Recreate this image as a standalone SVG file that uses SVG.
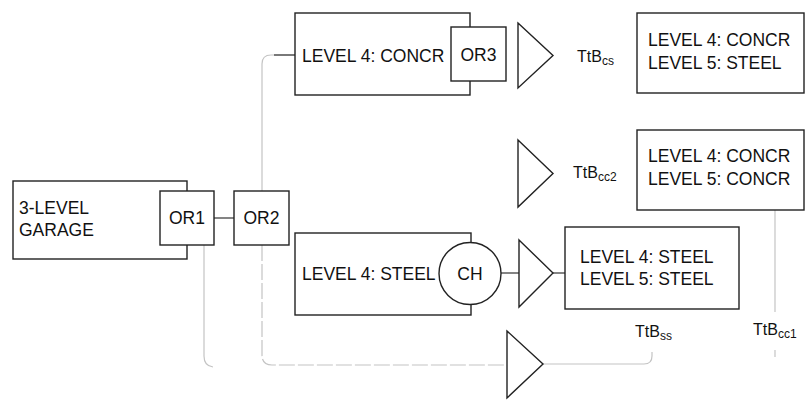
<svg xmlns="http://www.w3.org/2000/svg" width="809" height="402" viewBox="0 0 809 402">
<style>
  .box { fill: #fff; stroke: #222; stroke-width: 1.4; }
  .tri { fill: #fff; stroke: #222; stroke-width: 1.4; stroke-linejoin: miter; }
  .t { font-family: "Liberation Sans", Arial, sans-serif; font-size: 17.5px; fill: #111; }
  .lbl { font-family: "Liberation Sans", Arial, sans-serif; font-size: 16px; fill: #111; }
  .sub { font-size: 12px; }
  .solid { fill: none; stroke: #333; stroke-width: 1.2; }
  .faint { fill: none; stroke: #c4c4c4; stroke-width: 1.2; }
</style>
<rect width="809" height="402" fill="#fff"/>
<g id="connectors">
  <path class="faint" d="M262,191 V64 Q262,55 271,55 H295"/>
  <path class="solid" d="M274,55 H295"/>
  <path class="solid" d="M214,218 H234"/>
  <path class="faint" d="M204,245 V356 Q204,366 213,367"/>
  <path class="faint" d="M262,245 V355 Q262,365 272,365 H507" stroke-dasharray="16 3"/>
  <path class="faint" d="M543,364 H644 Q652,364 652,356 V352"/>
  <path class="solid" d="M501,273 H519"/>
  <path class="solid" d="M553,273 H565"/>
  <path class="faint" d="M775,210 V312"/>
  <path class="faint" d="M775,350 V357"/>
</g>
<g id="garage">
  <rect class="box" x="13" y="181" width="174" height="78"/>
  <text class="t" x="19" y="214">3-LEVEL</text>
  <text class="t" x="19" y="236">GARAGE</text>
</g>
<g id="or1">
  <rect class="box" x="160" y="191" width="54" height="54"/>
  <text class="t" x="187" y="224" text-anchor="middle">OR1</text>
</g>
<g id="or2">
  <rect class="box" x="234" y="191" width="55" height="54"/>
  <text class="t" x="261.5" y="224" text-anchor="middle">OR2</text>
</g>
<g id="level4-concr">
  <rect class="box" x="295" y="13" width="175" height="82"/>
  <text class="t" x="302" y="62">LEVEL 4: CONCR</text>
</g>
<g id="or3">
  <rect class="box" x="451" y="27" width="55" height="54"/>
  <text class="t" x="478.5" y="61" text-anchor="middle">OR3</text>
</g>
<g id="level4-steel">
  <rect class="box" x="295" y="233" width="176" height="82"/>
  <text class="t" x="302" y="280">LEVEL 4: STEEL</text>
</g>
<g id="ch">
  <circle class="box" cx="470" cy="273.5" r="31"/>
  <text class="t" x="470" y="280" text-anchor="middle">CH</text>
</g>
<g id="tri-cs">
  <polygon class="tri" points="518,23 553,55.5 518,88"/>
</g>
<g id="tri-cc2">
  <polygon class="tri" points="518,140 553,173.5 518,207"/>
</g>
<g id="tri-ss">
  <polygon class="tri" points="519,240 553,273 519,307"/>
</g>
<g id="tri-bottom">
  <polygon class="tri" points="507,331 543,364 507,398"/>
</g>
<g id="label-cs">
  <text class="lbl" x="577" y="62">TtB<tspan class="sub" dy="3">cs</tspan></text>
</g>
<g id="label-cc2">
  <text class="lbl" x="573" y="178">TtB<tspan class="sub" dy="3">cc2</tspan></text>
</g>
<g id="label-ss">
  <text class="lbl" x="635" y="337">TtB<tspan class="sub" dy="3">ss</tspan></text>
</g>
<g id="label-cc1">
  <text class="lbl" x="753" y="335">TtB<tspan class="sub" dy="3">cc1</tspan></text>
</g>
<g id="concr-steel">
  <rect class="box" x="637" y="13" width="167" height="80"/>
  <text class="t" x="648" y="46">LEVEL 4: CONCR</text>
  <text class="t" x="648" y="69">LEVEL 5: STEEL</text>
</g>
<g id="concr-concr">
  <rect class="box" x="637" y="130" width="167" height="80"/>
  <text class="t" x="648" y="162">LEVEL 4: CONCR</text>
  <text class="t" x="648" y="185">LEVEL 5: CONCR</text>
</g>
<g id="steel-steel">
  <rect class="box" x="565" y="227" width="174" height="82"/>
  <text class="t" x="580" y="263">LEVEL 4: STEEL</text>
  <text class="t" x="580" y="285">LEVEL 5: STEEL</text>
</g>
</svg>
